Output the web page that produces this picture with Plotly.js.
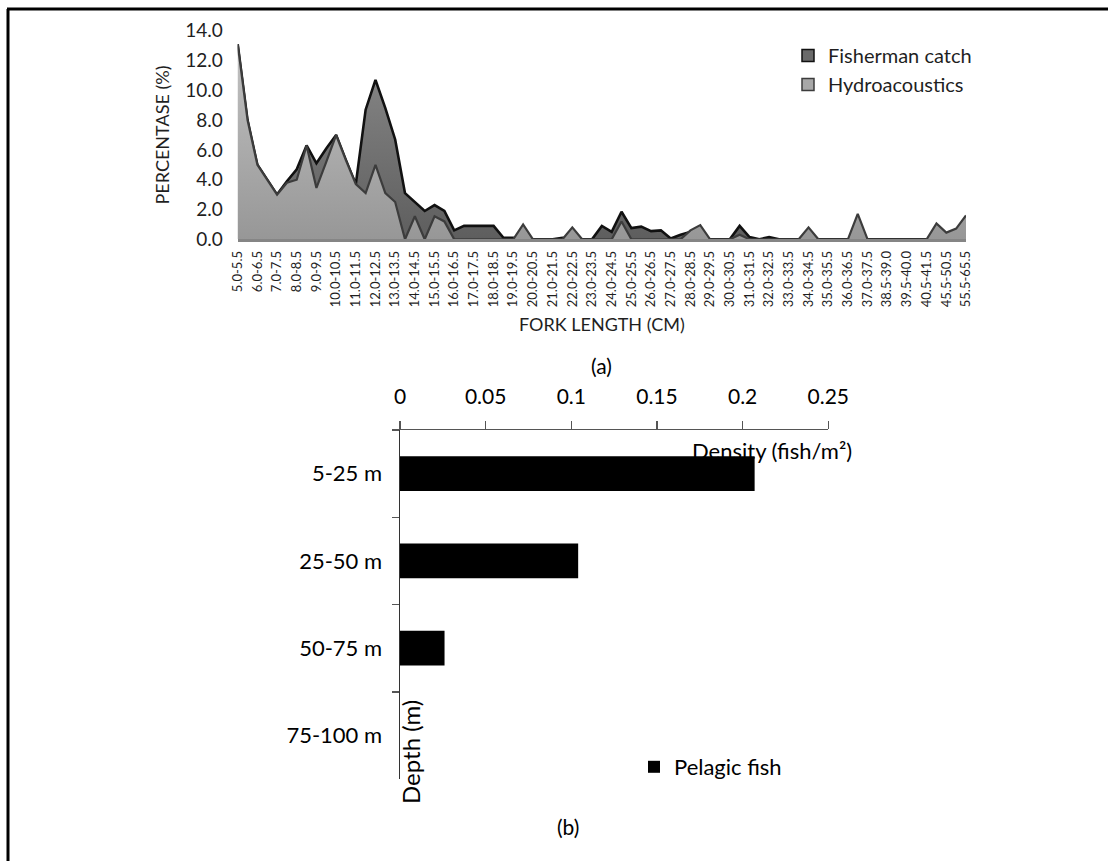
<!DOCTYPE html>
<html>
<head>
<meta charset="utf-8">
<script src="https://cdn.plot.ly/plotly-3.0.1.min.js"></script>
<style>
html,body{margin:0;padding:0;background:#fff;}
#chart{width:1117px;height:861px;}
</style>
</head>
<body>
<div id="chart"></div>
<script>
// ---------- (a) Fork length distribution ----------
const forkLengths = [
"5.0-5.5","5.5-6.0","6.0-6.5","6.5-7.0","7.0-7.5","7.5-8.0","8.0-8.5","8.5-9.0","9.0-9.5","9.5-10.0",
"10.0-10.5","10.5-11.0","11.0-11.5","11.5-12.0","12.0-12.5","12.5-13.0","13.0-13.5","13.5-14.0","14.0-14.5","14.5-15.0",
"15.0-15.5","15.5-16.0","16.0-16.5","16.5-17.0","17.0-17.5","17.5-18.0","18.0-18.5","18.5-19.0","19.0-19.5","19.5-20.0",
"20.0-20.5","20.5-21.0","21.0-21.5","21.5-22.0","22.0-22.5","22.5-23.0","23.0-23.5","23.5-24.0","24.0-24.5","24.5-25.0",
"25.0-25.5","25.5-26.0","26.0-26.5","26.5-27.0","27.0-27.5","27.5-28.0","28.0-28.5","28.5-29.0","29.0-29.5","29.5-30.0",
"30.0-30.5","30.5-31.0","31.0-31.5","31.5-32.0","32.0-32.5","32.5-33.0","33.0-33.5","33.5-34.0","34.0-34.5","34.5-35.0",
"35.0-35.5","35.5-36.0","36.0-36.5","36.5-37.0","37.0-37.5","37.5-38.5","38.5-39.0","39.0-39.5","39.5-40.0","40.0-40.5",
"40.5-41.5","41.5-45.5","45.5-50.5","50.5-55.5","55.5-65.5"];

const fishermanCatch = [
13.1,8.0,5.0,4.0,3.0,3.9,4.7,6.3,5.1,6.1,
7.0,5.3,3.7,8.7,10.7,8.8,6.7,3.1,2.5,1.9,
2.3,1.9,0.6,0.9,0.9,0.9,0.9,0.1,0.1,0,
0,0,0,0.1,0,0,0,0.9,0.5,1.85,
0.75,0.85,0.55,0.6,0.05,0.3,0.5,0,0,0,
0,0.9,0.15,0,0.15,0,0,0,0,0,
0,0,0,0,0,0,0,0,0,0,
0,0,0,0,0];

const hydroacoustics = [
13.1,8.0,5.0,4.0,3.0,3.8,4.0,6.3,3.45,5.2,
7.0,5.3,3.7,3.1,5.0,3.1,2.5,0,1.55,0,
1.55,1.2,0,0,0,0,0,0,0,1.0,
0,0,0,0,0.8,0,0,0,0,1.2,
0,0,0,0,0,0,0.6,0.95,0,0,
0,0.3,0,0,0,0,0,0,0.8,0,
0,0,0,1.7,0,0,0,0,0,0,
0,1.07,0.45,0.72,1.6];

const seriesNames = ["Fisherman catch","Hydroacoustics"];
const yTicks = [0,2,4,6,8,10,12,14];

// ---------- (b) Density by depth ----------
const depthClasses = ["5-25 m","25-50 m","50-75 m","75-100 m"];
const pelagicDensity = [0.207,0.104,0.026,0];
const densityTicks = [0,0.05,0.1,0.15,0.2,0.25];
const densityTickText = ["0","0.05","0.1","0.15","0.2","0.25"];

const FONT = "Lato, 'Open Sans', sans-serif";
const W = 1117, H = 861;
const px = v => v / W;
const py = v => 1 - v / H;

const traces = [
  {
    type: "scatter", mode: "lines", x: forkLengths, y: fishermanCatch,
    name: seriesNames[0], showlegend: false,
    fill: "tozeroy",
    fillgradient: {type: "vertical", colorscale: [[0, "#5e5e5e"], [1, "#8a8a8a"]]},
    fillcolor: "#707070",
    line: {color: "#111111", width: 2.6},
    xaxis: "x", yaxis: "y", hoverinfo: "skip"
  },
  {
    type: "scatter", mode: "lines", x: forkLengths, y: hydroacoustics,
    name: seriesNames[1], showlegend: false,
    fill: "tozeroy",
    fillgradient: {type: "vertical", colorscale: [[0, "#979797"], [1, "#c2c2c2"]]},
    fillcolor: "#a8a8a8",
    line: {color: "#3c3c3c", width: 2.2},
    xaxis: "x", yaxis: "y", hoverinfo: "skip"
  },
  // legend entries for panel (a)
  {
    type: "bar", x: [null], y: [null], name: seriesNames[0], legend: "legend",
    marker: {color: "#6a6a6a", line: {color: "#111", width: 1.5}},
    xaxis: "x", yaxis: "y", showlegend: true
  },
  {
    type: "bar", x: [null], y: [null], name: seriesNames[1], legend: "legend",
    marker: {color: "#a8a8a8", line: {color: "#3c3c3c", width: 1.5}},
    xaxis: "x", yaxis: "y", showlegend: true
  },
  // panel (b)
  {
    type: "bar", orientation: "h", x: pelagicDensity, y: depthClasses,
    name: "Pelagic fish", legend: "legend2",
    marker: {color: "#000000"},
    xaxis: "x2", yaxis: "y2", hoverinfo: "skip", showlegend: true
  }
];

const layout = {
  width: W, height: H,
  margin: {l: 0, r: 0, t: 0, b: 0},
  paper_bgcolor: "#ffffff",
  plot_bgcolor: "rgba(0,0,0,0)",
  font: {family: FONT, color: "#1a1a1a"},
  showlegend: true,
  bargap: 0.6,
  xaxis: {
    type: "category",
    categoryorder: "array", categoryarray: forkLengths,
    range: [0, forkLengths.length - 1],
    domain: [px(237.7), px(966)],
    anchor: "y",
    showline: true, linecolor: "#858585", linewidth: 2.5,
    showgrid: false, zeroline: false,
    ticks: "",
    tickmode: "array",
    tickvals: forkLengths.filter((c, i) => i % 2 === 0),
    ticktext: forkLengths.filter((c, i) => i % 2 === 0),
    tickangle: -90,
    tickfont: {family: FONT, size: 13, color: "#1f1f1f"},
    ticklabelstandoff: 4,
    title: {text: "FORK LENGTH (CM)", font: {family: FONT, size: 18, color: "#1f1f1f"}, standoff: 12},
    fixedrange: true
  },
  yaxis: {
    range: [0, 14],
    domain: [py(239.3), py(30.7)],
    anchor: "x",
    tickmode: "array", tickvals: yTicks,
    tickformat: ".1f",
    showline: false, showgrid: false, zeroline: false,
    ticks: "",
    tickfont: {family: FONT, size: 19, color: "#1f1f1f"},
    ticklabelstandoff: 14,
    title: {text: "PERCENTASE (%)", font: {family: FONT, size: 18, color: "#1f1f1f"}, standoff: 10},
    fixedrange: true
  },
  xaxis2: {
    range: [0, 0.25],
    domain: [px(400), px(828.3)],
    anchor: "y2", side: "top",
    showline: true, linecolor: "#555", linewidth: 1.5,
    showgrid: false, zeroline: false,
    ticks: "outside", ticklen: 8, tickcolor: "#555", tickwidth: 1.5,
    tickmode: "array", tickvals: densityTicks, ticktext: densityTickText,
    tickfont: {family: FONT, size: 21, color: "#000"},
    ticklabelstandoff: 8,
    fixedrange: true
  },
  yaxis2: {
    type: "category",
    categoryorder: "array", categoryarray: depthClasses,
    autorange: "reversed",
    domain: [py(779), py(430)],
    anchor: "x2",
    showline: true, linecolor: "#333", linewidth: 1.5,
    showgrid: false, zeroline: false,
    ticks: "outside", ticklen: 7, tickcolor: "#555", tickwidth: 1.5,
    tickson: "boundaries",
    tickfont: {family: FONT, size: 22, color: "#000"},
    ticklabelstandoff: 12,
    fixedrange: true
  },
  legend: {
    x: px(788), xanchor: "left",
    y: py(36), yanchor: "top",
    font: {family: FONT, size: 20, color: "#1f1f1f"},
    bgcolor: "rgba(0,0,0,0)", borderwidth: 0,
    tracegroupgap: 0, itemwidth: 30
  },
  legend2: {
    x: px(634), xanchor: "left",
    y: py(767), yanchor: "middle",
    font: {family: FONT, size: 22, color: "#000"},
    bgcolor: "rgba(0,0,0,0)", borderwidth: 0, itemwidth: 30
  },
  annotations: [
    {text: "(a)", x: px(602), y: py(365), xref: "paper", yref: "paper", xanchor: "center", yanchor: "middle",
     showarrow: false, font: {family: FONT, size: 21, color: "#000"}},
    {text: "Density (fish/m²)", x: px(772), y: py(450), xref: "paper", yref: "paper", xanchor: "center", yanchor: "middle",
     showarrow: false, font: {family: FONT, size: 22, color: "#000"}},
    {text: "Depth (m)", textangle: -90, x: px(410), y: py(752), xref: "paper", yref: "paper", xanchor: "center", yanchor: "middle",
     showarrow: false, font: {family: FONT, size: 24, color: "#000"}},
    {text: "(b)", x: px(568), y: py(826), xref: "paper", yref: "paper", xanchor: "center", yanchor: "middle",
     showarrow: false, font: {family: FONT, size: 21, color: "#000"}}
  ],
  shapes: [
    {type: "line", xref: "paper", yref: "paper", x0: px(8), x1: px(8), y0: py(9), y1: 0,
     line: {color: "#000", width: 3}},
    {type: "line", xref: "paper", yref: "paper", x0: px(7), x1: px(1108), y0: py(9), y1: py(9),
     line: {color: "#000", width: 3}}
  ]
};

Plotly.newPlot("chart", traces, layout, {displayModeBar: false, staticPlot: true});
</script>
</body>
</html>
